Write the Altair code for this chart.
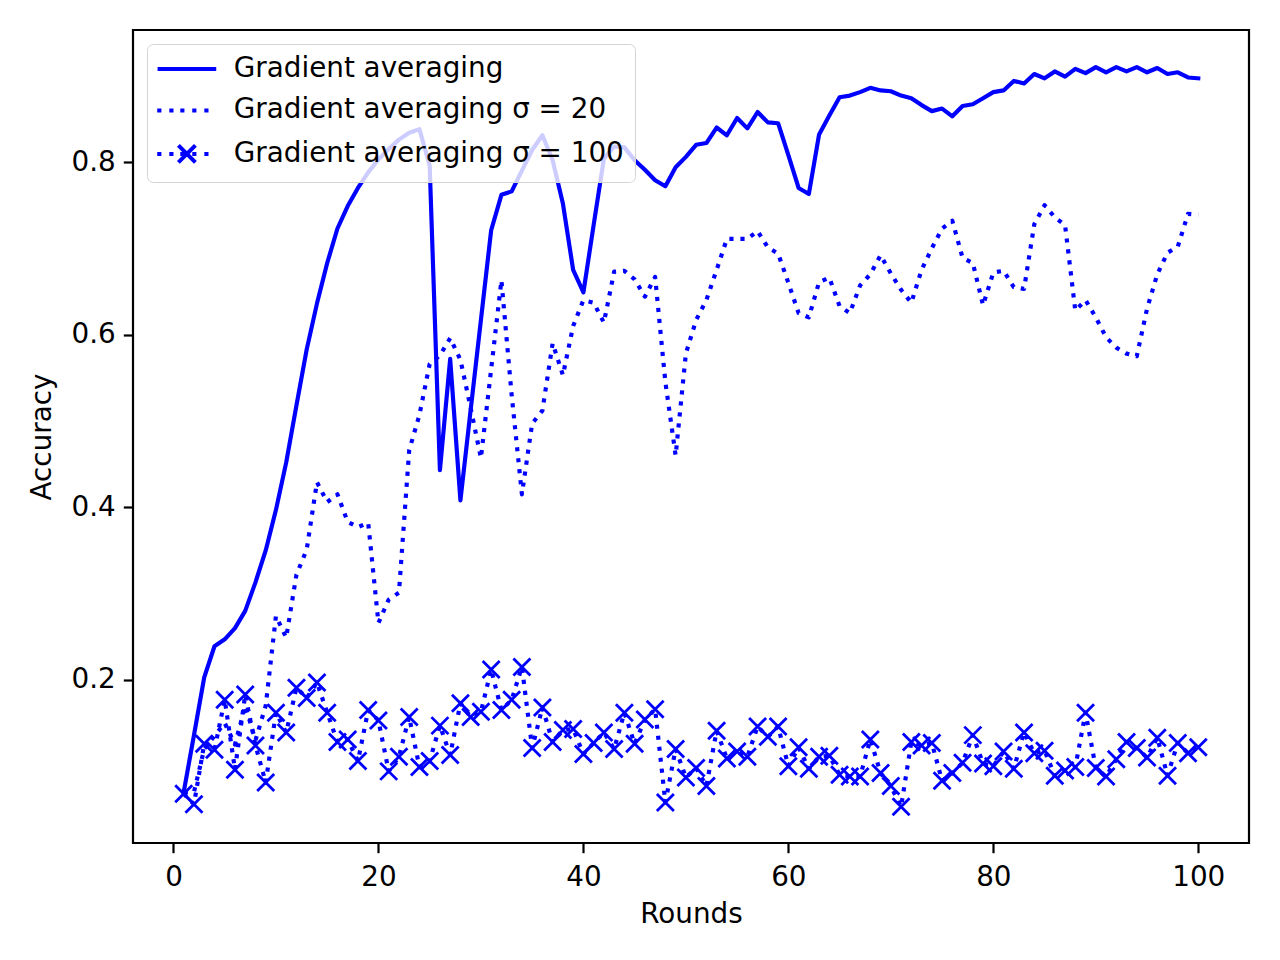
import altair as alt
import pandas as pd

rounds = list(range(1, 101))

acc_avg = [
    0.070, 0.136, 0.203, 0.239, 0.247, 0.260, 0.280, 0.313, 0.350, 0.397,
    0.452, 0.518, 0.583, 0.636, 0.683, 0.723, 0.749, 0.770, 0.788, 0.803,
    0.815, 0.826, 0.834, 0.838, 0.796, 0.443, 0.572, 0.408, 0.513, 0.617,
    0.721, 0.762, 0.766, 0.790, 0.814, 0.831, 0.802, 0.752, 0.675, 0.649,
    0.727, 0.804, 0.818, 0.817, 0.802, 0.791, 0.779, 0.772, 0.794, 0.806,
    0.820, 0.822, 0.840, 0.831, 0.851, 0.839, 0.858, 0.846, 0.845, 0.808,
    0.770, 0.763, 0.832, 0.854, 0.875, 0.877, 0.881, 0.886, 0.883, 0.882,
    0.877, 0.874, 0.866, 0.859, 0.862, 0.853, 0.865, 0.867, 0.874, 0.881,
    0.883, 0.894, 0.891, 0.902, 0.897, 0.905, 0.899, 0.908, 0.903, 0.910,
    0.904, 0.910, 0.905, 0.910, 0.904, 0.909, 0.902, 0.904, 0.898, 0.897,
]

acc_s20 = [
    0.070, 0.070, 0.120, 0.135, 0.150, 0.125, 0.170, 0.130, 0.170, 0.274,
    0.249, 0.322, 0.351, 0.429, 0.406, 0.415, 0.383, 0.377, 0.382, 0.266,
    0.293, 0.301, 0.466, 0.507, 0.566, 0.576, 0.596, 0.571, 0.515, 0.457,
    0.560, 0.663, 0.530, 0.415, 0.497, 0.512, 0.590, 0.553, 0.610, 0.640,
    0.637, 0.614, 0.673, 0.674, 0.664, 0.644, 0.667, 0.545, 0.460, 0.578,
    0.617, 0.640, 0.675, 0.711, 0.711, 0.711, 0.720, 0.701, 0.694, 0.660,
    0.625, 0.620, 0.661, 0.666, 0.633, 0.625, 0.657, 0.670, 0.692, 0.671,
    0.652, 0.637, 0.675, 0.700, 0.723, 0.732, 0.689, 0.683, 0.634, 0.672,
    0.674, 0.655, 0.653, 0.728, 0.750, 0.736, 0.727, 0.628, 0.640, 0.620,
    0.597, 0.585, 0.578, 0.575, 0.630, 0.670, 0.695, 0.702, 0.740, 0.739,
]

acc_s100 = [
    0.068, 0.056, 0.126, 0.119, 0.177, 0.096, 0.183, 0.124, 0.081, 0.162,
    0.139, 0.191, 0.179, 0.197, 0.162, 0.128, 0.131, 0.106, 0.165, 0.153,
    0.094, 0.111, 0.157, 0.099, 0.106, 0.147, 0.113, 0.173, 0.157, 0.163,
    0.212, 0.165, 0.177, 0.215, 0.121, 0.168, 0.128, 0.142, 0.143, 0.114,
    0.127, 0.139, 0.120, 0.162, 0.126, 0.154, 0.166, 0.058, 0.120, 0.087,
    0.098, 0.077, 0.141, 0.109, 0.117, 0.111, 0.146, 0.134, 0.146, 0.100,
    0.122, 0.097, 0.111, 0.112, 0.090, 0.088, 0.088, 0.131, 0.092, 0.077,
    0.053, 0.128, 0.124, 0.127, 0.083, 0.092, 0.104, 0.136, 0.103, 0.100,
    0.117, 0.097, 0.139, 0.115, 0.118, 0.089, 0.095, 0.099, 0.162, 0.098,
    0.088, 0.108, 0.128, 0.121, 0.110, 0.133, 0.089, 0.127, 0.115, 0.122,
]

series_names = [
    "Gradient averaging",
    "Gradient averaging σ = 20",
    "Gradient averaging σ = 100",
]
x_ticks = [0, 20, 40, 60, 80, 100]
y_ticks = [0.2, 0.4, 0.6, 0.8]

rows = []
for name, vals in zip(series_names, [acc_avg, acc_s20, acc_s100]):
    for r, v in zip(rounds, vals):
        rows.append({"series": name, "round": r, "acc": v})
df = pd.DataFrame(rows)

BLUE = "#0000ff"
FONT = "DejaVu Sans"
FS = 27.8
LW = 4.17
DOT = [4.17, 6.88]

# legend symbol paths (unit = sqrt(size)/2 = 8.5 px)
def dots(starts, length=0.49):
    return "".join(f"M{s:.2f},0L{s + length:.2f},0" for s in starts)

dot_starts = [-3.49, -2.07, -0.78, 0.63, 2.05]
X_PATH = "M-1,-1L1,1M-1,1L1,-1"
sym_paths = [
    "M-3.45,0L3.45,0",
    dots(dot_starts),
    dots(dot_starts) + X_PATH,
]

xscale = alt.Scale(domain=[-3.95, 104.95], nice=False, zero=False)
yscale = alt.Scale(domain=[0.011, 0.953], nice=False, zero=False)

xaxis = alt.Axis(values=x_ticks, title="Rounds", grid=False, domain=False,
                 tickColor="black", tickWidth=2.2, tickSize=9.7, labelPadding=11,
                 labelFlush=False, labelOverlap=False, format="d",
                 titlePadding=9)
yaxis = alt.Axis(values=y_ticks, title="Accuracy", grid=False, domain=False,
                 tickColor="black", tickWidth=2.2, tickSize=9.7, labelPadding=8,
                 labelFlush=False, labelOverlap=False, format=".1f",
                 titlePadding=15)

base = alt.Chart(df)
X = alt.X("round:Q", scale=xscale)
Y = alt.Y("acc:Q", scale=yscale)

line_avg = base.transform_filter(alt.datum.series == series_names[0]).mark_line(
    color=BLUE, strokeWidth=LW, strokeJoin="round", strokeCap="square"
).encode(
    x=alt.X("round:Q", scale=xscale, axis=xaxis),
    y=alt.Y("acc:Q", scale=yscale, axis=yaxis),
)

line_s20 = base.transform_filter(alt.datum.series == series_names[1]).mark_line(
    color=BLUE, strokeWidth=LW, strokeDash=DOT, strokeCap="butt", strokeJoin="round"
).encode(x=X, y=Y)

line_s100 = base.transform_filter(alt.datum.series == series_names[2]).mark_line(
    color=BLUE, strokeWidth=LW, strokeDash=DOT, strokeCap="butt", strokeJoin="round"
).encode(x=X, y=Y)

pts_s100 = base.transform_filter(alt.datum.series == series_names[2]).mark_point(
    color=BLUE, filled=False, strokeWidth=2.8, size=289, opacity=1, shape=X_PATH
).encode(x=X, y=Y)

# legend-only layer (draws no marks; its shape scale provides the legend)
legend_layer = base.transform_filter("false").mark_point(
    color=BLUE, filled=False, opacity=0
).encode(
    x=X, y=Y,
    shape=alt.Shape(
        "series:N",
        scale=alt.Scale(domain=series_names, range=sym_paths),
        legend=alt.Legend(
            title=None, orient="top-left", offset=14, padding=11,
            symbolSize=289, symbolStrokeWidth=4.0, symbolStrokeColor=BLUE,
            symbolFillColor="rgba(0,0,0,0)", symbolOpacity=1, symbolOffset=15,
            labelOffset=33, rowPadding=12.5, labelLimit=1000,
            labelFont=FONT, labelFontSize=FS, labelColor="black",
            fillColor="rgba(255,255,255,0.8)", strokeColor="#d4d4d4",
            cornerRadius=6,
        ),
    ),
)

chart = alt.layer(line_avg, line_s20, line_s100, pts_s100, legend_layer).properties(
    width=1116, height=813,
    autosize=alt.AutoSizeParams(type="none"),
    padding={"left": 125, "top": 22, "right": 20, "bottom": 100},
).configure_view(
    stroke="black", strokeWidth=2.2
).configure_axis(
    labelFont=FONT, labelFontSize=FS, labelColor="black",
    titleFont=FONT, titleFontSize=FS, titleColor="black", titleFontWeight="normal",
)

chart.save("out.html", embed_options={"renderer": "svg", "actions": False})
